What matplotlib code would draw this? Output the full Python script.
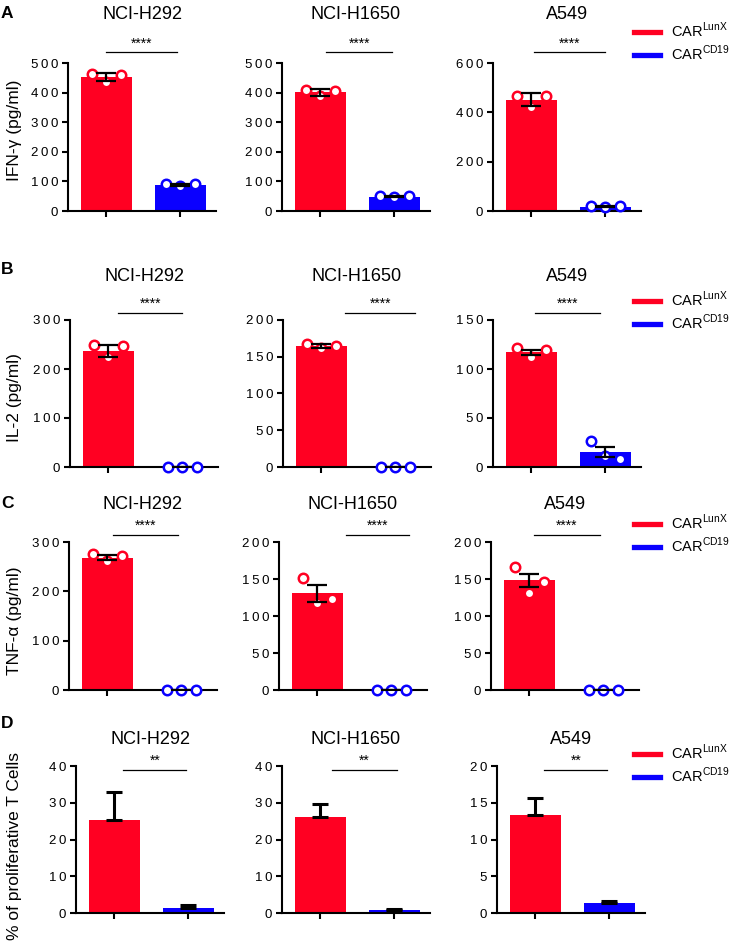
import numpy as np
import matplotlib
matplotlib.use('Agg')
import matplotlib.pyplot as plt
from matplotlib.lines import Line2D
from matplotlib.ticker import FuncFormatter

plt.rcParams['font.family'] = ['Liberation Sans', 'DejaVu Sans']
plt.rcParams['mathtext.fontset'] = 'custom'
plt.rcParams['mathtext.rm'] = 'Liberation Sans'

# -------------------- data --------------------
cell_lines = ['NCI-H292', 'NCI-H1650', 'A549']
groups = ['CAR$^{\\mathregular{LunX}}$', 'CAR$^{\\mathregular{CD19}}$']
row_letters = ['A', 'B', 'C', 'D']
ylabels = ['IFN-\u03b3 (pg/ml)', 'IL-2 (pg/ml)', 'TNF-\u03b1 (pg/ml)', '% of proliferative T Cells']
ymax = [[500, 500, 600], [300, 200, 150], [300, 200, 200], [40, 40, 20]]
ystep = [[100, 100, 200], [100, 50, 50], [100, 50, 50], [10, 10, 5]]
stars = ['****', '****', '****', '**']

# means [LunX, CD19] per cell line
ifng_mean = [[452, 88], [401, 48], [452, 18]]
ifng_sem = [[13, 3], [12, 2], [26, 3]]
ifng_pts = [[[462, 435, 460], [91, 86, 90]],
            [[410, 388, 406], [50, 46, 50]],
            [[468, 421, 468], [20, 15, 20]]]

il2_mean = [[237, 0], [165, 0], [117, 15.5]]
il2_sem = [[12, 0], [3, 0], [2.5, 5]]
il2_pts = [[[248, 225, 246], [0, 0, 0]],
           [[167, 162, 165], [0, 0, 0]],
           [[121, 112, 119], [27, 11, 8]]]

tnf_mean = [[268, 0], [131, 0], [148, 0]]
tnf_sem = [[5, 0], [11.5, 0], [9, 0]]
tnf_pts = [[[276, 261, 271], [0, 0, 0]],
           [[151, 117, 123], [0, 0, 0]],
           [[166, 131, 146], [0, 0, 0]]]

prolif_mean = [[25.3, 1.3], [26.2, 0.9], [13.3, 1.4]]
prolif_err = [[7.5, 0.9], [3.4, 0.3], [2.3, 0.3]]

means = [ifng_mean, il2_mean, tnf_mean, prolif_mean]
errs = [ifng_sem, il2_sem, tnf_sem, prolif_err]
points = [ifng_pts, il2_pts, tnf_pts, None]

colors = ['#FF0022', '#0A00FF']

# -------------------- layout (pixels) --------------------
W, H = 745, 946
row_top = [63, 320, 542, 766]
row_bot = [211, 467, 690, 913]
col_left = [[68, 282, 493], [70, 283, 493], [69, 279, 491], [76, 282, 497]]
ax_w = 148
title_pad = [31.5, 28, 23.5, 15.5]
ylabel_y = [130, 398, 621, 846]
letter_y = [13, 270, 503, 723]
sig_y = [1.075, 1.05, 1.05, 0.975]
sig_x = [[(0.0, 0.95), (0.08, 0.97), (0.03, 1.0)],
         [(0.13, 1.0), (0.32, 1.27), (0.05, 0.93)],
         [(0.07, 0.95), (0.38, 1.24), (0.06, 0.95)],
         [(0.12, 0.97), (0.16, 1.03), (0.12, 0.97)]]
legend_y = [31, 300, 523, 753]

fig = plt.figure(figsize=(W / 100, H / 100), dpi=100)


def spaced(v, pos):
    return '\u2009'.join(f'{v:g}')


for r in range(4):
    for c in range(3):
        left = col_left[r][c]
        ax = fig.add_axes([left / W, 1 - row_bot[r] / H, ax_w / W,
                           (row_bot[r] - row_top[r]) / H])
        m = means[r][c]
        e = errs[r][c]
        xs = np.arange(2)
        ax.bar(xs, m, width=0.69, color=colors, zorder=1)
        if r < 3:
            pts = points[r][c]
            for g in range(2):
                ax.plot(xs[g] + np.array([-0.19, 0, 0.19]), pts[g], 'o',
                        mfc='white', mec=colors[g], mew=1.8, ms=6.8,
                        zorder=3, clip_on=False)
            ax.errorbar(xs, m, yerr=e, fmt='none', ecolor='black',
                        elinewidth=1.6, capsize=7.5, capthick=1.6, zorder=4)
        else:
            ax.errorbar(xs, m, yerr=[[0, 0], e], fmt='none', ecolor='black',
                        elinewidth=2.2, capsize=5.5, capthick=2.2, zorder=4)
        ax.set_xlim(-0.52, 1.48)
        ax.set_ylim(0, ymax[r][c])
        ax.set_yticks(np.arange(0, ymax[r][c] + 0.1, ystep[r][c]))
        ax.yaxis.set_major_formatter(FuncFormatter(spaced))
        ax.set_xticks(xs)
        ax.set_xticklabels([])
        for s in ['top', 'right']:
            ax.spines[s].set_visible(False)
        for s in ['left', 'bottom']:
            ax.spines[s].set_linewidth(1.5)
        ax.tick_params(axis='both', direction='out', length=4.5, width=1.5,
                       labelsize=9.5, pad=2.5)
        ax.set_title(cell_lines[c], fontsize=13, pad=title_pad[r])
        x0, x1 = sig_x[r][c]
        ax.plot([x0, x1], [sig_y[r]] * 2, color='black', lw=0.9,
                transform=ax.get_xaxis_transform(), clip_on=False)
        ax.text((x0 + x1) / 2, sig_y[r] + 0.01, stars[r], ha='center',
                va='bottom', fontsize=10, transform=ax.get_xaxis_transform())
        if c == 0:
            fig.text(15 / W, 1 - ylabel_y[r] / H, ylabels[r], rotation=90,
                     ha='center', va='center', fontsize=12.5)
    # panel letter
    fig.text(1 / W, 1 - letter_y[r] / H, row_letters[r],
             fontsize=12.5, fontweight='bold', ha='left', va='center')
    # legend
    handles = [Line2D([], [], color=col, lw=3.8) for col in colors]
    fig.legend(handles, groups, loc='upper left', frameon=False,
               bbox_to_anchor=(634 / W, 1 - (legend_y[r] - 10) / H),
               fontsize=10.5, handlelength=1.75, handletextpad=0.8,
               labelspacing=0.25, borderpad=0, borderaxespad=0)

fig.savefig('out.png', dpi=100)
